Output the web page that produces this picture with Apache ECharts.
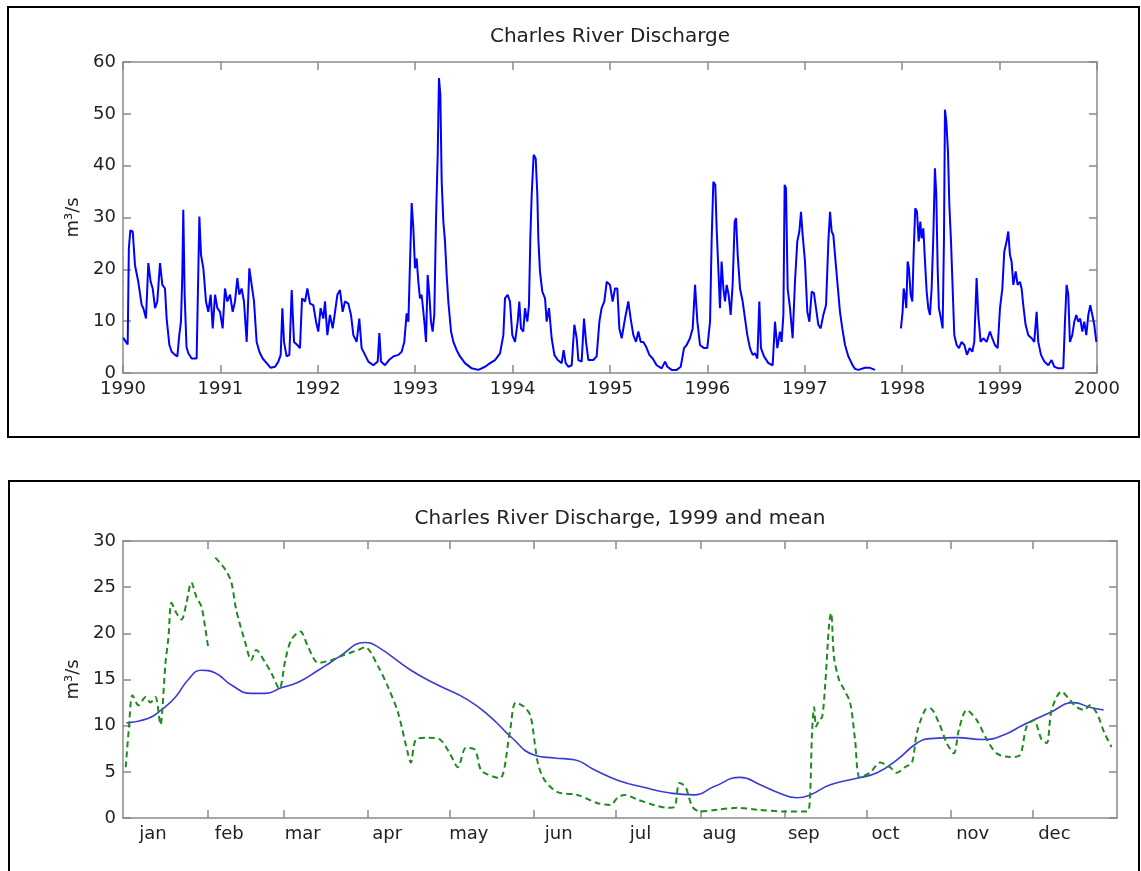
<!DOCTYPE html>
<html>
<head>
<meta charset="utf-8">
<title>Charles River Discharge</title>
<script src="https://cdn.jsdelivr.net/npm/echarts@6/dist/echarts.min.js"></script>
<style>
  html, body { margin: 0; padding: 0; background: #fff; }
  #chart { width: 1141px; height: 871px; }
</style>
</head>
<body>
<div id="chart"></div>
<script>
// ---- Daily discharge record 1990-2000 (decimal year, m^3/s); null marks missing data ----
const topYears = [
  1990.003,1990.030,1990.048,1990.060,1990.075,1990.100,1990.123,1990.157,1990.192,1990.209,
  1990.236,1990.260,1990.284,1990.305,1990.329,1990.352,1990.380,1990.404,1990.431,1990.448,
  1990.476,1990.500,1990.534,1990.558,1990.578,1990.595,1990.609,1990.619,1990.633,1990.652,
  1990.671,1990.705,1990.756,1990.773,1990.784,1990.801,1990.825,1990.852,1990.876,1990.900,
  1990.921,1990.945,1990.969,1990.996,1991.023,1991.047,1991.071,1991.099,1991.126,1991.150,
  1991.174,1991.194,1991.218,1991.242,1991.270,1991.297,1991.321,1991.345,1991.372,1991.400,
  1991.434,1991.475,1991.516,1991.561,1991.595,1991.619,1991.636,1991.653,1991.680,1991.708,
  1991.732,1991.756,1991.790,1991.817,1991.838,1991.869,1991.893,1991.920,1991.954,1991.982,
  1992.005,1992.029,1992.057,1992.074,1992.098,1992.125,1992.153,1992.177,1992.201,1992.228,
  1992.255,1992.279,1992.313,1992.341,1992.365,1992.399,1992.426,1992.450,1992.485,1992.519,
  1992.570,1992.615,1992.632,1992.649,1992.690,1992.731,1992.776,1992.827,1992.861,1992.888,
  1992.912,1992.930,1992.947,1992.964,1992.981,1992.998,1993.015,1993.032,1993.049,1993.066,
  1993.094,1993.111,1993.128,1993.145,1993.162,1993.179,1993.196,1993.214,1993.231,1993.244,
  1993.258,1993.272,1993.289,1993.306,1993.323,1993.340,1993.368,1993.392,1993.426,1993.460,
  1993.511,1993.580,1993.648,1993.717,1993.768,1993.819,1993.871,1993.905,1993.922,1993.949,
  1993.973,1993.997,1994.025,1994.052,1994.069,1994.086,1994.110,1994.127,1994.151,1994.168,
  1994.182,1994.196,1994.216,1994.237,1994.254,1994.264,1994.281,1994.305,1994.333,1994.350,
  1994.374,1994.401,1994.429,1994.463,1994.504,1994.524,1994.545,1994.572,1994.607,1994.634,
  1994.658,1994.675,1994.709,1994.733,1994.754,1994.778,1994.829,1994.863,1994.891,1994.914,
  1994.942,1994.966,1995.000,1995.027,1995.051,1995.075,1995.096,1995.120,1995.154,1995.188,
  1995.212,1995.240,1995.267,1995.291,1995.315,1995.342,1995.370,1995.404,1995.438,1995.479,
  1995.530,1995.565,1995.589,1995.633,1995.684,1995.726,1995.760,1995.787,1995.821,1995.849,
  1995.873,1995.897,1995.924,1995.965,1995.999,1996.027,1996.044,1996.061,1996.081,1996.095,
  1996.112,1996.129,1996.146,1996.164,1996.181,1996.198,1996.218,1996.239,1996.259,1996.280,
  1996.294,1996.311,1996.335,1996.362,1996.386,1996.410,1996.437,1996.465,1996.489,1996.513,
  1996.533,1996.550,1996.581,1996.626,1996.670,1996.694,1996.718,1996.745,1996.762,1996.780,
  1996.793,1996.807,1996.824,1996.848,1996.875,1996.899,1996.923,1996.944,1996.961,1996.978,
  1997.002,1997.026,1997.047,1997.071,1997.094,1997.115,1997.139,1997.163,1997.190,1997.218,
  1997.242,1997.259,1997.276,1997.293,1997.310,1997.334,1997.361,1997.385,1997.413,1997.447,
  1997.491,1997.515,1997.550,1997.566,1997.618,1997.669,1997.720,1997.850,1997.987,1998.004,
  1998.015,1998.028,1998.042,1998.056,1998.069,1998.087,1998.104,1998.117,1998.134,1998.152,
  1998.169,1998.186,1998.199,1998.217,1998.234,1998.251,1998.268,1998.285,1998.302,1998.319,
  1998.336,1998.350,1998.364,1998.377,1998.398,1998.415,1998.429,1998.439,1998.453,1998.470,
  1998.484,1998.501,1998.518,1998.535,1998.559,1998.583,1998.610,1998.638,1998.665,1998.692,
  1998.720,1998.740,1998.764,1998.781,1998.805,1998.833,1998.867,1998.901,1998.925,1998.952,
  1998.980,1999.004,1999.028,1999.048,1999.072,1999.089,1999.106,1999.123,1999.141,1999.165,
  1999.185,1999.209,1999.226,1999.243,1999.267,1999.295,1999.329,1999.356,1999.380,1999.397,
  1999.425,1999.459,1999.500,1999.534,1999.562,1999.603,1999.654,1999.671,1999.688,1999.705,
  1999.722,1999.746,1999.767,1999.787,1999.808,1999.828,1999.849,1999.869,1999.890,1999.911,
  1999.931,1999.952,1999.972,1999.993
];
const topFlow = [
  6.8,6.0,5.5,24.0,27.5,27.3,20.8,17.6,13.1,12.5,
  10.5,21.2,17.6,16.3,12.5,13.8,21.2,17.0,16.3,10.5,
  5.4,4.1,3.5,3.2,7.3,9.9,19.0,31.5,15.0,5.0,
  3.8,2.8,2.8,3.0,30.2,22.8,20.2,13.8,11.8,15.1,
  8.6,15.1,12.5,11.8,8.6,16.3,13.8,15.1,11.8,13.8,
  18.3,15.1,16.3,13.8,6.0,20.2,17.0,13.8,6.0,4.1,
  2.8,1.9,1.0,1.2,2.2,3.5,12.5,6.0,3.2,3.5,
  16.0,6.0,5.4,4.8,14.4,13.8,16.3,13.4,13.1,9.9,
  8.0,12.5,10.5,13.8,7.3,11.2,8.6,11.8,15.1,16.0,
  11.8,13.8,13.4,11.2,7.3,6.0,10.5,4.8,3.5,2.2,
  1.5,2.2,7.7,2.2,1.5,2.5,3.2,3.5,4.1,6.0,
  11.5,9.9,21.5,32.8,27.9,20.2,22.1,17.6,14.4,15.1,
  9.9,6.0,18.9,15.1,9.9,8.0,11.2,29.9,42.1,56.9,
  53.7,36.9,29.2,25.4,18.9,13.8,8.0,6.0,4.4,3.2,
  1.9,0.9,0.6,1.2,1.9,2.5,3.8,7.3,14.4,15.1,
  13.8,7.3,6.0,9.9,13.8,8.6,8.0,12.5,9.9,13.1,
  26.0,34.4,42.1,41.4,34.4,26.0,19.6,15.7,14.4,9.9,
  12.5,6.7,3.5,2.5,1.9,4.4,1.9,1.2,1.5,9.3,
  6.7,2.5,2.2,10.5,6.0,2.5,2.5,3.2,9.9,12.5,
  13.8,17.6,17.0,13.8,16.3,16.3,8.6,6.7,10.5,13.8,
  10.5,7.3,6.0,8.0,6.0,6.0,5.1,3.5,2.8,1.5,
  0.9,2.2,1.2,0.6,0.6,1.2,4.8,5.4,6.7,8.6,
  17.0,9.9,5.4,4.8,4.8,9.9,26.0,36.9,36.3,27.9,
  20.2,12.5,21.5,16.3,13.8,17.0,15.1,11.2,17.0,29.2,
  29.9,22.8,16.3,13.8,10.5,7.3,4.8,3.5,3.8,2.8,
  13.8,4.8,3.2,1.9,1.5,9.9,4.8,8.0,6.0,11.2,
  36.3,35.6,16.3,12.5,6.7,17.6,25.4,27.3,31.1,26.6,
  21.5,11.8,9.9,15.7,15.4,12.5,9.3,8.6,11.2,13.1,
  25.4,31.1,27.3,26.6,22.8,17.6,11.8,8.6,5.4,3.2,
  1.5,0.8,0.6,0.9,1.0,1.0,0.6,null,8.6,11.8,
  16.3,15.1,12.5,21.5,20.2,15.1,13.8,22.8,31.8,31.1,
  25.4,29.2,26.0,27.9,21.5,15.7,12.5,11.2,16.3,26.0,
  39.5,34.4,20.2,12.5,10.5,8.6,26.0,50.8,48.5,42.7,
  32.4,25.4,16.3,7.3,5.4,4.8,6.0,5.4,3.5,4.8,
  4.1,6.0,18.3,11.2,6.0,6.7,6.0,8.0,6.7,5.4,
  4.8,12.5,16.3,23.4,25.4,27.3,22.8,21.5,17.0,19.6,
  17.0,17.6,16.3,13.1,9.3,7.3,6.7,6.0,11.8,6.0,
  3.5,2.2,1.5,2.5,1.2,0.9,0.9,9.9,17.0,15.1,
  6.0,7.3,9.9,11.2,9.9,10.5,8.0,9.9,7.3,11.2,
  13.1,11.2,9.3,6.0
];
const yearTickLabels = ['1990','1991','1992','1993','1994','1995','1996','1997','1998','1999','2000'];

// ---- Seasonal cycle: day of year (0 = 1 Jan) ----
const monthNames = ['jan','feb','mar','apr','may','jun','jul','aug','sep','oct','nov','dec'];
const monthStartDays = [31, 59, 90, 120, 151, 181, 212, 243, 273, 304, 334];
const monthLabelDays = [11, 39, 66, 97, 127, 160, 190, 219, 250, 280, 312, 342];

// long-term mean discharge
const meanDays = [
  1.3, 9.4, 14.1, 19.3, 24.0, 28.8, 33.9, 39.8, 47.1, 52.3, 58.1, 64.3, 71.7, 76.4, 79.0,
  88.9, 93.7, 105.7, 115.6, 126.6, 135.1, 142.4, 151.2, 158.5, 165.8, 173.2, 181.6, 191.5,
  201.0, 209.8, 217.1, 226.7, 234.0, 240.2, 247.5, 252.3, 259.7, 269.5, 276.9, 284.2, 291.5,
  296.3, 306.2, 316.1, 323.4, 330.7, 340.3, 349.1, 354.9, 360.1
];
const meanFlow = [
  10.3, 10.8, 11.7, 13.1, 15.0, 16.0, 15.7, 14.4, 13.5, 13.5, 14.1, 14.7, 16.0, 16.9, 17.4,
  19.0, 18.5, 16.0, 14.4, 12.8, 10.9, 8.8, 6.8, 6.5, 6.3, 5.2, 4.1, 3.3,
  2.7, 2.5, 3.4, 4.4, 3.6, 2.8, 2.2, 2.5, 3.6, 4.3, 4.9, 6.3, 8.1,
  8.6, 8.7, 8.5, 9.0, 10.1, 11.4, 12.5, 12.0, 11.7
];

// 1999 discharge (null marks missing data)
const days1999 = [
  1.0, 2.1, 3.5, 5.7, 8.3, 10.1, 11.9, 13.8, 14.5, 15.6, 16.7, 17.8, 19.6, 21.5, 23.3, 25.1,
  27.0, 28.8, 30.3, 31.4, 32.6, 33.9, 37.6, 39.8, 41.6, 44.9, 47.1, 48.9, 52.3, 54.5, 57.4,
  59.6, 61.8, 65.1, 68.0, 71.7, 76.4, 81.6, 86.3, 88.9, 93.7, 97.3, 101.0, 104.6, 105.7,
  107.6, 112.0, 116.4, 120.0, 123.0, 125.9, 129.2, 131.4, 134.0, 138.4, 142.0, 144.2, 147.5,
  149.7, 152.3, 154.8, 159.6, 166.9, 174.3, 179.0, 181.6, 184.2, 188.9, 195.1, 199.9, 202.5,
  204.3, 206.5, 209.1, 212.0, 218.2, 225.6, 232.9, 242.8, 251.2, 252.3, 253.0, 253.8, 254.5,
  255.6, 256.7, 257.8, 259.3, 260.0, 261.1, 262.9, 264.8, 267.0, 268.8, 270.6, 274.3, 278.0,
  281.6, 284.2, 287.1, 289.7, 291.5, 294.5, 296.3, 299.6, 302.5, 305.1, 306.9, 309.8, 313.5,
  317.2, 320.8, 325.6, 329.3, 331.8, 334.4, 337.3, 339.2, 341.0, 344.6, 347.6, 350.2, 353.1,
  354.9, 357.5, 360.4, 363.0
];
const flow1999 = [
  5.5, 9.5, 13.3, 12.2, 13.1, 12.5, 13.1, 10.1, 12.0, 16.8, 19.6, 23.3, 22.2, 21.5, 23.3, 25.5,
  23.9, 22.9, 20.4, 18.2, null, 28.2, 26.9, 25.5, 22.5, 19.0, 17.1, 18.2, 16.8, 15.7, 14.0,
  17.1, 19.3, 20.2, 18.5, 16.8, 17.1, 17.7, 18.2, 18.5, 16.4, 14.2, 11.4, 7.0, 6.0,
  8.5, 8.7, 8.5, 7.0, 5.5, 7.6, 7.4, 5.2, 4.7, 4.3, 9.2, 12.5, 12.0,
  11.0, 6.0, 4.1, 2.8, 2.5, 1.6, 1.4, 2.2, 2.5, 2.0, 1.4, 1.1, 1.2,
  3.8, 3.4, 1.2, 0.7, 0.9, 1.1, 0.9, 0.7, 0.7, 2.7, 9.2, 12.0, 9.9,
  10.6, 10.9, 14.2, 21.1, 22.2, 17.4, 15.0, 13.9, 12.5, 8.5, 4.4, 4.9, 6.0,
  5.5, 4.9, 5.5, 6.0, 9.2, 11.7, 11.9, 10.3, 8.1, 7.0, 9.5, 11.7, 10.6,
  8.5, 7.0, 6.6, 6.8, 9.9, 10.6, 8.5, 8.1, 11.7, 13.7, 12.8, 12.0, 11.7,
  12.2, 11.4, 9.2, 7.7
];

// ---- styling ----
const FONT = 'DejaVu Sans';
const TEXT = '#222';
const FRAME = '#8a8a8a';

const pairs = (xs, ys) => xs.map((x, i) => [x, ys[i] === null ? '-' : ys[i]]);

// One side of a MATLAB-style boxed axes: gray line with inward ticks
function boxAxis(base, showLabels, labelExtra) {
  return Object.assign({
    type: 'value',
    axisLine: { show: true, onZero: false, lineStyle: { color: FRAME, width: 1.5 } },
    axisTick: { show: true, inside: true, length: 8, lineStyle: { color: FRAME, width: 1.5 } },
    axisLabel: Object.assign({
      show: showLabels, color: TEXT, fontFamily: FONT, fontSize: 18, margin: 7
    }, labelExtra || {}),
    splitLine: { show: false }
  }, base);
}

const yName = {
  name: 'm³/s', nameLocation: 'middle', nameRotate: 90, nameGap: 40,
  nameTextStyle: { color: TEXT, fontFamily: FONT, fontSize: 18 }
};

const chart = echarts.init(document.getElementById('chart'), null, { renderer: 'canvas' });

const monthTicks = { customValues: monthStartDays };

chart.setOption({
  animation: false,
  backgroundColor: '#fff',
  graphic: [
    { type: 'rect', shape: { x: 8, y: 7, width: 1131, height: 430 },
      style: { fill: null, stroke: '#000', lineWidth: 2 }, silent: true },
    { type: 'rect', shape: { x: 9, y: 481, width: 1130, height: 420 },
      style: { fill: null, stroke: '#000', lineWidth: 2 }, silent: true }
  ],
  title: [
    { text: 'Charles River Discharge', left: 610, top: 27, textAlign: 'center', padding: 0,
      textStyle: { color: TEXT, fontFamily: FONT, fontSize: 20, fontWeight: 'normal' } },
    { text: 'Charles River Discharge, 1999 and mean', left: 620, top: 509, textAlign: 'center', padding: 0,
      textStyle: { color: TEXT, fontFamily: FONT, fontSize: 20, fontWeight: 'normal' } }
  ],
  grid: [
    { left: 123, top: 62, width: 974, height: 311, containLabel: false, outerBoundsMode: 'none' },
    { left: 123, top: 541, width: 994, height: 277, containLabel: false, outerBoundsMode: 'none' }
  ],
  xAxis: [
    boxAxis({ gridIndex: 0, position: 'bottom', min: 1990, max: 2000, interval: 1 }, true,
      { formatter: v => yearTickLabels[Math.round(v - 1990)] }),
    boxAxis({ gridIndex: 0, position: 'top', min: 1990, max: 2000, interval: 1 }, false),
    Object.assign(boxAxis({ gridIndex: 1, position: 'bottom', min: 0, max: 365 }, true, {
      customValues: monthLabelDays,
      formatter: v => monthNames[monthLabelDays.indexOf(v)]
    })),
    boxAxis({ gridIndex: 1, position: 'top', min: 0, max: 365 }, false)
  ],
  yAxis: [
    Object.assign(boxAxis({ gridIndex: 0, position: 'left', min: 0, max: 60, interval: 10 }, true), yName),
    boxAxis({ gridIndex: 0, position: 'right', min: 0, max: 60, interval: 10 }, false),
    Object.assign(boxAxis({ gridIndex: 1, position: 'left', min: 0, max: 30, interval: 5 }, true), yName),
    boxAxis({ gridIndex: 1, position: 'right', min: 0, max: 30, interval: 5 }, false)
  ],
  series: [
    { name: 'discharge', type: 'line', xAxisIndex: 0, yAxisIndex: 0,
      data: pairs(topYears, topFlow), showSymbol: false, connectNulls: false,
      lineStyle: { color: '#0000ff', width: 2 } },
    { name: 'mean', type: 'line', xAxisIndex: 2, yAxisIndex: 2,
      data: pairs(meanDays, meanFlow), showSymbol: false, smooth: 0.5,
      lineStyle: { color: '#3b3bd4', width: 1.6 } },
    { name: '1999', type: 'line', xAxisIndex: 2, yAxisIndex: 2,
      data: pairs(days1999, flow1999), showSymbol: false, smooth: 0.3, connectNulls: false,
      lineStyle: { color: '#1f8a1f', width: 2, type: [6, 4] } }
  ]
});

// month-start ticks on both horizontal sides of the lower axes
chart.setOption({
  xAxis: [{}, {}, { axisTick: monthTicks }, { axisTick: monthTicks }]
});
</script>
</body>
</html>
